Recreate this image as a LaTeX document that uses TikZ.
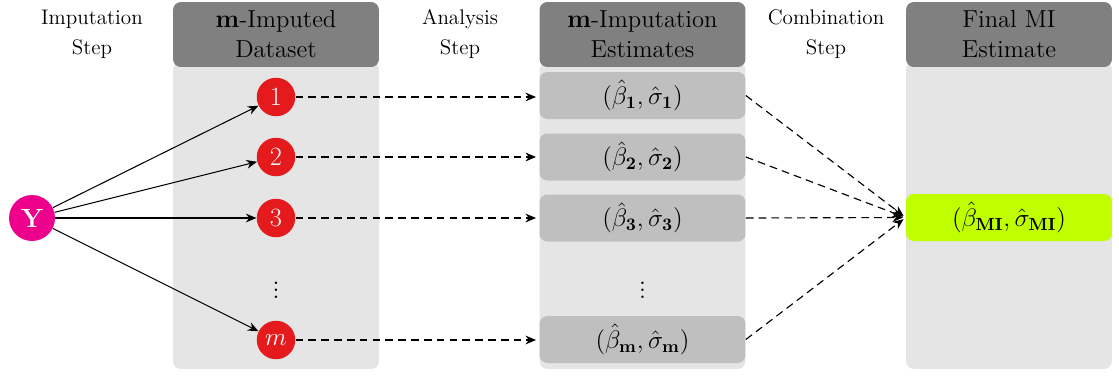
\documentclass[tikz,border=0pt]{standalone}
\usetikzlibrary{arrows.meta}
\definecolor{hdr}{gray}{0.50}
\definecolor{bodyc}{gray}{0.898}
\definecolor{estc}{gray}{0.75}
\definecolor{redc}{HTML}{E41A1C}
\definecolor{magc}{HTML}{EC008C}
\definecolor{limec}{HTML}{BFFF00}
\begin{document}
\begin{tikzpicture}[x=0.02cm,y=-0.02cm,
  sidelbl/.style={align=center,font=\fontsize{12}{17}\selectfont},
  hdrbox/.style={rectangle,rounded corners=4.5pt,fill=hdr,minimum width=4.12cm,minimum height=1.3cm,align=center,font=\fontsize{14}{17}\selectfont,inner sep=0pt},
  bodybox/.style={rectangle,rounded corners=4.5pt,fill=bodyc,minimum width=4.12cm,minimum height=6.14cm,inner sep=0pt},
  estbox/.style={rectangle,rounded corners=4.5pt,fill=estc,minimum width=4.12cm,minimum height=0.94cm,font=\fontsize{14}{17}\selectfont,inner sep=0pt},
  finbox/.style={estbox,fill=limec},
  dcirc/.style={circle,fill=redc,text=white,minimum size=0.77cm,inner sep=0pt,font=\fontsize{15}{17}\selectfont},
  ycirc/.style={circle,fill=magc,text=white,minimum size=0.92cm,inner sep=0pt,font=\fontsize{15}{17}\selectfont\bfseries},
  solidarr/.style={-{Stealth[length=6pt,width=5pt]},line width=0.6pt},
  dasharr/.style={-{Stealth[length=6pt,width=5pt]},dash pattern=on 4.4pt off 2.9pt,line width=0.65pt}
]
\useasboundingbox (0,0) rectangle (1119,376);
% bodies
\node[bodybox] (b1) at (276,215.5) {};
\node[bodybox] (b2) at (642.5,215.5) {};
\node[bodybox] (b3) at (1009,215.5) {};
% headers
\node[hdrbox] (h1) at (276,34.5) {$\mathbf{m}$-Imputed\\Dataset};
\node[hdrbox] (h2) at (642.5,34.5) {$\mathbf{m}$-Imputation\\Estimates};
\node[hdrbox] (h3) at (1009,34.5) {Final MI\\Estimate};
% side labels
\node[sidelbl] (s1) at (92,34) {Imputation\\Step};
\node[sidelbl] (s2) at (460,34) {Analysis\\Step};
\node[sidelbl] (s3) at (826,34) {Combination\\Step};
% Y
\node[ycirc] (Y) at (32,218) {Y};
% datasets
\node[dcirc] (c1) at (276,97) {1};
\node[dcirc] (c2) at (276,157) {2};
\node[dcirc] (c3) at (276,218) {3};
\node (d1) at (276,285) {\Large$\vdots$};
\node[dcirc] (cm) at (276,340) {$m$};
% estimates
\node[estbox] (e1) at (642.5,95.5) {$(\hat{\beta}_{\mathbf{1}},\hat{\sigma}_{\mathbf{1}})$};
\node[estbox] (e2) at (642.5,157) {$(\hat{\beta}_{\mathbf{2}},\hat{\sigma}_{\mathbf{2}})$};
\node[estbox] (e3) at (642.5,218) {$(\hat{\beta}_{\mathbf{3}},\hat{\sigma}_{\mathbf{3}})$};
\node (d2) at (642.5,285) {\Large$\vdots$};
\node[estbox] (em) at (642.5,339.5) {$(\hat{\beta}_{\mathbf{m}},\hat{\sigma}_{\mathbf{m}})$};
% final
\node[finbox] (fin) at (1009,217.5) {$(\hat{\beta}_{\mathbf{MI}},\hat{\sigma}_{\mathbf{MI}})$};
% arrows
\draw[solidarr] (Y) -- (c1);
\draw[solidarr] (Y) -- (c2);
\draw[solidarr] (Y) -- (c3);
\draw[solidarr] (Y) -- (cm);
\draw[dasharr,shorten >=1.8pt] (c1) -- (e1.west|-c1);
\draw[dasharr,shorten >=1.8pt] (c2) -- (e2.west|-c2);
\draw[dasharr,shorten >=1.8pt] (c3) -- (e3.west|-c3);
\draw[dasharr,shorten >=1.8pt] (cm) -- (em.west|-cm);
\draw[dasharr,shorten >=1.5pt] (e1.east) -- (fin.west);
\draw[dasharr,shorten >=1.5pt] (e2.east) -- (fin.west);
\draw[dasharr,shorten >=1.5pt] (e3.east) -- (fin.west);
\draw[dasharr,shorten >=1.5pt] (em.east) -- (fin.west);
\end{tikzpicture}
\end{document}
